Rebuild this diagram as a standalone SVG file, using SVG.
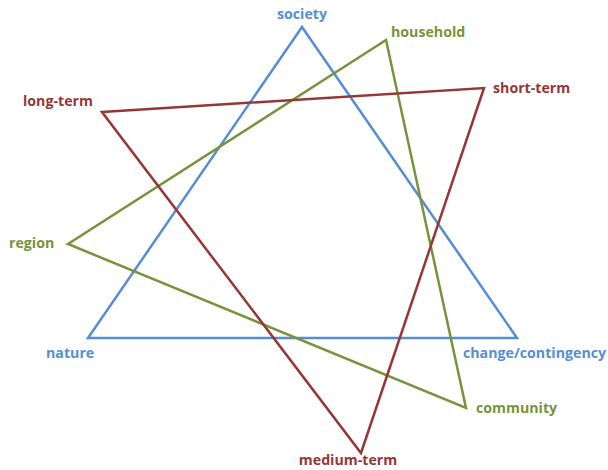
<svg xmlns="http://www.w3.org/2000/svg" width="608" height="470" viewBox="0 0 608 470">
<style>
.t{font-family:"Open Sans","Liberation Sans",sans-serif;font-weight:bold;font-size:14.2px}
.b{fill:#558ed5}.g{fill:#77933c}.r{fill:#953735}
.l{fill:none;stroke-width:2.5;stroke-linejoin:miter}
</style>
<rect width="608" height="470" fill="#fff"/>
<g id="connectors">
<polygon class="l" stroke="#558ed5" points="302,27 88,338 517,338"/>
<polygon class="l" stroke="#77933c" points="386,40 68,244 466,408"/>
<polygon class="l" stroke="#953735" points="102,112 484,88 361,453"/>
</g>
<g id="society"><text class="t b" x="302" y="19" text-anchor="middle">society</text></g>
<g id="nature"><text class="t b" x="46" y="358">nature</text></g>
<g id="change"><text class="t b" x="463" y="358">change/contingency</text></g>
<g id="household"><text class="t g" x="391" y="37">household</text></g>
<g id="region"><text class="t g" x="9" y="248">region</text></g>
<g id="community"><text class="t g" x="476" y="413">community</text></g>
<g id="long-term"><text class="t r" x="23" y="106">long-term</text></g>
<g id="short-term"><text class="t r" x="493" y="93">short-term</text></g>
<g id="medium-term"><text class="t r" x="348" y="465" text-anchor="middle">medium-term</text></g>
</svg>
